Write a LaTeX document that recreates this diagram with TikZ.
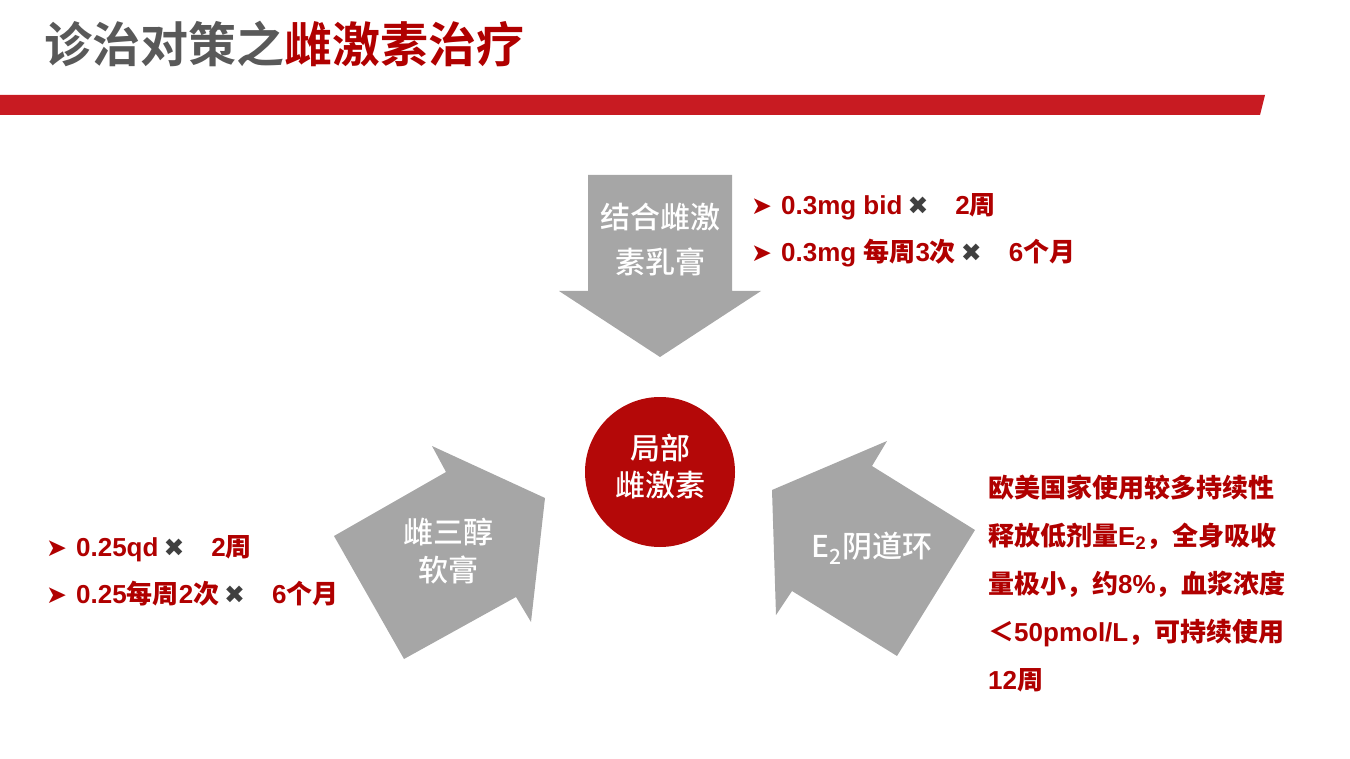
\documentclass[tikz,border=0pt]{standalone}
\usepackage{fontspec}
\setmainfont{Liberation Sans}
\newfontfamily\zhb{Noto Sans CJK SC Bold}
\newfontfamily\zhm{Noto Sans CJK SC Medium}
\newfontfamily\symf{DejaVu Sans}
\definecolor{barred}{RGB}{200,27,34}
\definecolor{txtred}{RGB}{176,0,0}
\definecolor{ballred}{RGB}{180,8,8}
\definecolor{arrgray}{RGB}{166,166,166}
\definecolor{titlegray}{RGB}{89,89,89}
\definecolor{xgray}{RGB}{64,64,64}
\newcommand{\bulmark}{{\symf\fontsize{25}{25}\selectfont\color{txtred}➤}}
\newcommand{\timesmark}{{\symf\fontsize{25}{25}\selectfont\color{xgray}✖}}

\begin{document}
\begin{tikzpicture}[x=1pt,y=-1pt,
		redtxt/.style={text=txtred,font=\fontsize{26}{26}\selectfont\bfseries,anchor=base west,inner sep=0pt},
		graytxt/.style={text=white,font=\fontsize{30}{45}\selectfont\zhm,align=center,inner sep=0pt}]
		\useasboundingbox (0,0) rectangle (1350,759);
		% title and bar
		\node[anchor=base west,inner sep=0pt,font=\fontsize{48}{48}\selectfont\zhb] (title) at (44,63) {\color{titlegray}诊治对策之\color{txtred}雌激素治疗};
		\fill[barred] (0,95) -- (1265,95) -- (1260,115) -- (0,115) -- cycle;
		% arrows
		\fill[arrgray] (588,175) -- (732,175) -- (732,291) -- (761,291) -- (660,357) -- (559,291) -- (588,291) -- cycle;
		\fill[arrgray] (545,498) -- (432,446) -- (446,472) -- (334,536) -- (404,659) -- (516,597) -- (531,622) -- cycle;
		\fill[arrgray] (772,490) -- (887,441) -- (872,466) -- (975,530) -- (897,656) -- (792,591) -- (776,615) -- cycle;
		\node[graytxt] (cream) at (660,240) {结合雌激\\素乳膏};
		\node[graytxt,font=\fontsize{30}{38}\selectfont\zhm] (estriol) at (448,551) {雌三醇\\软膏};
		\node[graytxt] (ring) at (872,548) {E\textsubscript{2}阴道环};
		% centre
		\node[circle,fill=ballred,minimum size=150pt,text=white,align=center,font=\fontsize{30}{37}\selectfont\zhm] (local) at (660,472) {};
		\node[text=white,align=center,inner sep=0pt,font=\fontsize{30}{37}\selectfont\zhm] (localtxt) at (660,467) {局部\\雌激素};
		% doses
		\node[redtxt] (cream1) at (751,215) {\bulmark\hspace{9pt}0.3mg bid\hspace{5pt}\timesmark\hspace{27pt}2{\zhb 周}};
		\node[redtxt] (cream2) at (751,262) {\bulmark\hspace{9pt}0.3mg {\zhb 每周}3{\zhb 次}\hspace{5pt}\timesmark\hspace{27pt}6{\zhb 个月}};
		\node[redtxt] (estriol1) at (46,556) {\bulmark\hspace{9pt}0.25qd\hspace{5pt}\timesmark\hspace{27pt}2{\zhb 周}};
		\node[redtxt] (estriol2) at (46,603) {\bulmark\hspace{9pt}0.25{\zhb 每周}2{\zhb 次}\hspace{5pt}\timesmark\hspace{27pt}6{\zhb 个月}};
		\node[redtxt] (ring1) at (988,497) {\zhb 欧美国家使用较多持续性};
		\node[redtxt] (ring2) at (988,545) {{\zhb 释放低剂量}E\textsubscript{2}{\zhb ，全身吸收}};
		\node[redtxt] (ring3) at (988,593) {{\zhb 量极小，约}8\%{\zhb ，血浆浓度}};
		\node[redtxt] (ring4) at (988,641) {{\zhb ＜}50pmol/L{\zhb ，可持续使用}};
		\node[redtxt] (ring5) at (988,689) {12{\zhb 周}};
\end{tikzpicture}
\end{document}
